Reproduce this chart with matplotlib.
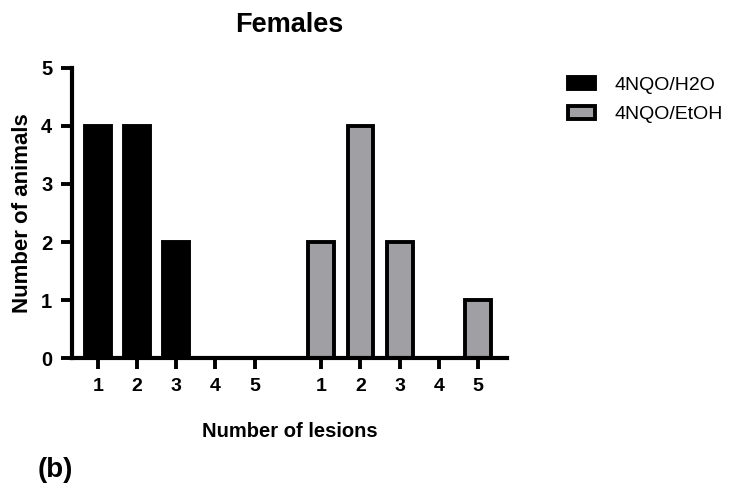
import matplotlib
matplotlib.use("Agg")
import matplotlib.pyplot as plt
import numpy as np

plt.rcParams["font.family"] = ["Liberation Sans", "DejaVu Sans"]

lesions = ["1", "2", "3", "4", "5"]
h2o_counts = [4, 4, 2, 0, 0]
etoh_counts = [2, 4, 2, 0, 1]
series_names = ["4NQO/H2O", "4NQO/EtOH"]
y_ticks = [0, 1, 2, 3, 4, 5]

BLACK = "#000000"
GREY = "#A0A0A4"

fig = plt.figure(figsize=(7.48, 4.88), dpi=100)
ax = fig.add_axes([0.096, 0.266, 0.582, 0.595])

x1 = np.arange(1, 6)
x2 = x1 + 5.7
b1 = ax.bar(x1, h2o_counts, width=0.66, color=BLACK, edgecolor=BLACK,
            linewidth=2.8, label=series_names[0], zorder=3)
b2 = ax.bar(x2, etoh_counts, width=0.66, color=GREY, edgecolor=BLACK,
            linewidth=2.8, label=series_names[1], zorder=3)

ax.set_xlim(0.34, 11.44)
ax.set_ylim(0, 5)
ax.set_xticks(list(x1) + list(x2))
ax.set_xticklabels(lesions + lesions, fontsize=14, fontweight="bold")
ax.set_yticks(y_ticks)
ax.set_yticklabels([str(t) for t in y_ticks], fontsize=14.5, fontweight="bold")

for s in ["top", "right"]:
    ax.spines[s].set_visible(False)
for s in ["left", "bottom"]:
    ax.spines[s].set_linewidth(3)
    ax.spines[s].set_zorder(4)
ax.tick_params(axis="both", width=2.8, length=8, direction="out", pad=6)

ax.set_title("Females", fontsize=19.5, fontweight="bold", pad=26)
ax.set_xlabel("Number of lesions", fontsize=14.5, fontweight="bold", labelpad=20)
ax.set_ylabel("Number of animals", fontsize=16, fontweight="bold", labelpad=6)

leg = ax.legend(handles=[b1, b2], loc="upper left",
                bbox_to_anchor=(1.1, 1.03), frameon=False, fontsize=14,
                handlelength=1.4, handleheight=0.6, handletextpad=1.0,
                labelspacing=0.65)

fig.text(0.05, 0.022, "(b)", fontsize=20, fontweight="bold")

fig.savefig("out.png", dpi=100, facecolor="white")
